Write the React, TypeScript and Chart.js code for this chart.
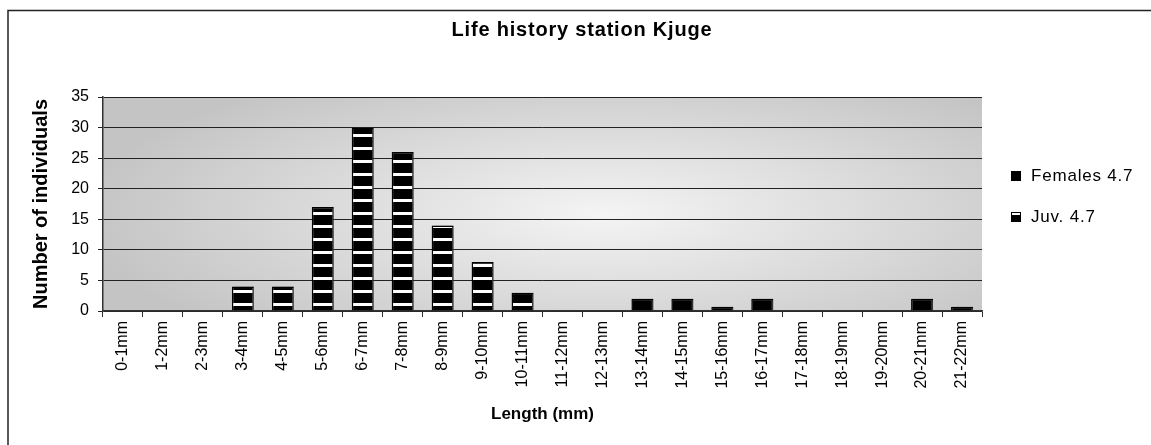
import React, { useEffect, useRef } from "react";
import { Chart, registerables } from "chart.js";

Chart.register(...registerables);

const categories = [
  "0-1mm", "1-2mm", "2-3mm", "3-4mm", "4-5mm", "5-6mm", "6-7mm", "7-8mm",
  "8-9mm", "9-10mm", "10-11mm", "11-12mm", "12-13mm", "13-14mm", "14-15mm",
  "15-16mm", "16-17mm", "17-18mm", "18-19mm", "19-20mm", "20-21mm", "21-22mm",
];
const femalesValues = [0, 0, 0, 0, 0, 0, 0, 0, 0, 0, 0, 0, 0, 2, 2, 0.7, 2, 0, 0, 0, 2, 0.7];
const juvValues = [0, 0, 0, 4, 4, 17, 30, 26, 14, 8, 3, 0, 0, 0, 0, 0, 0, 0, 0, 0, 0, 0];
const seriesLabels = ["Females 4.7", "Juv. 4.7"];
const yMin = 0;
const yMax = 35;
const yStep = 5;
const chartTitle = "Life history station Kjuge";
const xTitle = "Length (mm)";
const yTitle = "Number of individuals";

const W = 1151;
const H = 445;
const FONT = "'Liberation Sans', Arial, sans-serif";

function makeStripePattern(): CanvasPattern | string {
  const c = document.createElement("canvas");
  c.width = 4;
  c.height = 13;
  const g = c.getContext("2d");
  if (!g) return "#000";
  g.fillStyle = "#000";
  g.fillRect(0, 0, 4, 13);
  g.fillStyle = "#fff";
  g.fillRect(0, 4, 4, 3);
  const p = g.createPattern(c, "repeat");
  return p || "#000";
}

const decorPlugin = {
  id: "decor",
  beforeDraw(chart: any) {
    const { ctx, chartArea } = chart;
    const { left, right, top, bottom } = chartArea;
    ctx.save();
    ctx.fillStyle = "#fff";
    ctx.fillRect(0, 0, W, H);
    ctx.strokeStyle = "#222";
    ctx.lineWidth = 1.5;
    ctx.beginPath();
    ctx.moveTo(8, H + 2);
    ctx.lineTo(8, 10.5);
    ctx.lineTo(W + 2, 10.5);
    ctx.stroke();
    ctx.beginPath();
    ctx.rect(left, top, right - left, bottom - top);
    ctx.clip();
    const cx = left + (right - left) * 0.57;
    const cy = top + (bottom - top) * 0.55;
    const rx = (right - left) * 0.6;
    const ry = (bottom - top) * 0.75;
    ctx.translate(cx, cy);
    ctx.scale(1, ry / rx);
    const grad = ctx.createRadialGradient(0, 0, 0, 0, 0, rx);
    grad.addColorStop(0, "#f4f4f4");
    grad.addColorStop(1, "#c4c4c4");
    ctx.fillStyle = grad;
    ctx.fillRect(-rx * 2, -rx * 2, rx * 4, rx * 4);
    ctx.restore();
    ctx.save();
    ctx.fillStyle = "#000";
    ctx.font = `bold 20px ${FONT}`;
    (ctx as any).letterSpacing = "0.8px";
    ctx.textAlign = "center";
    ctx.textBaseline = "middle";
    ctx.fillText(chartTitle, 582, 30);
    ctx.restore();
  },
  beforeDatasetsDraw(chart: any) {
    const ctx = chart.ctx;
    ctx.save();
    ctx.shadowColor = "rgba(90,90,90,0.6)";
    ctx.shadowOffsetX = 3;
    ctx.shadowOffsetY = 0;
    ctx.shadowBlur = 0;
  },
  afterDatasetsDraw(chart: any) {
    chart.ctx.restore();
  },
  afterDraw(chart: any) {
    const { ctx } = chart;
    ctx.save();
    const rows = [171, 212];
    chart.data.datasets.forEach((ds: any, i: number) => {
      const y = rows[i];
      ctx.fillStyle = ds.backgroundColor;
      ctx.fillRect(1011, y, 10, 10);
      ctx.strokeStyle = "#000";
      ctx.lineWidth = 1;
      ctx.strokeRect(1011.5, y + 0.5, 9, 9);
      ctx.fillStyle = "#000";
      ctx.font = `17px ${FONT}`;
      (ctx as any).letterSpacing = "0.8px";
      ctx.textAlign = "left";
      ctx.textBaseline = "middle";
      ctx.fillText(ds.label, 1031, y + 5);
    });
    ctx.restore();
  },
};

export default function App() {
  const canvasRef = useRef<HTMLCanvasElement | null>(null);

  useEffect(() => {
    document.body.style.margin = "0";
    const canvas = canvasRef.current;
    if (!canvas) return;
    const stripe = makeStripePattern();
    const bw = (c: any) => (c.raw ? 1.5 : 0);
    const chart = new Chart(canvas, {
      type: "bar",
      data: {
        labels: categories,
        datasets: [
          {
            label: seriesLabels[0],
            data: femalesValues,
            backgroundColor: "#000",
            borderColor: "#000",
            borderWidth: bw,
            barPercentage: 0.55,
            categoryPercentage: 1,
          },
          {
            label: seriesLabels[1],
            data: juvValues,
            backgroundColor: stripe as any,
            borderColor: "#000",
            borderWidth: bw,
            barPercentage: 0.55,
            categoryPercentage: 1,
          },
        ],
      },
      options: {
        responsive: false,
        animation: false,
        devicePixelRatio: 1,
        layout: { padding: { top: 97, left: 0, right: W - 982, bottom: 0 } },
        plugins: {
          legend: { display: false },
          title: { display: false },
          tooltip: { enabled: false },
        },
        scales: {
          x: {
            stacked: true,
            grid: {
              offset: true,
              drawOnChartArea: false,
              drawTicks: true,
              tickLength: 6,
              color: "#333",
              lineWidth: 1,
            },
            border: { color: "#333", width: 1.5 },
            ticks: {
              autoSkip: false,
              minRotation: 90,
              maxRotation: 90,
              padding: 4,
              color: "#000",
              font: { family: FONT, size: 16 },
            },
            title: {
              display: true,
              text: xTitle,
              color: "#000",
              font: { family: FONT, size: 17, weight: "bold" },
              padding: { top: 0, bottom: 20 },
            },
            afterFit: (s: any) => {
              s.height = H - 311;
            },
          },
          y: {
            stacked: true,
            min: yMin,
            max: yMax,
            ticks: {
              stepSize: yStep,
              padding: 9,
              color: "#000",
              font: { family: FONT, size: 16 },
            },
            grid: { color: "#222", lineWidth: 1, tickLength: 5 },
            border: { color: "#333", width: 1.5 },
            title: {
              display: true,
              text: yTitle,
              color: "#000",
              font: { family: FONT, size: 20, weight: "bold" },
              padding: { top: 29, bottom: 0 },
            },
            afterFit: (s: any) => {
              s.width = 103;
            },
          },
        },
      },
      plugins: [decorPlugin],
    });
    return () => chart.destroy();
  }, []);

  return (
    <div style={{ width: W, height: H }}>
      <canvas ref={canvasRef} width={W} height={H} style={{ display: "block", width: W, height: H }} />
    </div>
  );
}
